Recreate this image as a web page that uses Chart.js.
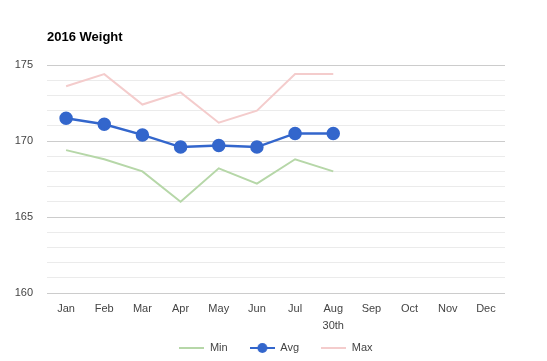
<!DOCTYPE html>
<html>
<head>
<meta charset="utf-8">
<script src="https://cdn.jsdelivr.net/npm/chart.js@4/dist/chart.umd.min.js"></script>
<style>
    html, body { margin: 0; padding: 0; background: #fff; }
    #wrap { width: 547px; height: 361px; }
</style>
</head>
<body>
<div id="wrap"><canvas id="chart" width="547" height="361"></canvas></div>
<script>
'use strict'

const months = ['Jan', 'Feb', 'Mar', 'Apr', 'May', 'Jun', 'Jul', ['Aug', '30th'], 'Sep', 'Oct', 'Nov', 'Dec']
const minWeight = [169.4, 168.8, 168.0, 166.0, 168.2, 167.2, 168.8, 168.0, null, null, null, null]
const avgWeight = [171.5, 171.1, 170.4, 169.6, 169.7, 169.6, 170.5, 170.5, null, null, null, null]
const maxWeight = [173.6, 174.4, 172.4, 173.2, 171.2, 172.0, 174.4, 174.4, null, null, null, null]
const yMin = 160
const yMax = 175

const FONT = '"Liberation Sans", Arial, sans-serif'

// small canvases used as legend markers (line, or line with dot)
const marker = (color, dot) => {
    const c = document.createElement('canvas')
    c.width = 25
    c.height = 12
    const g = c.getContext('2d')
    g.strokeStyle = color
    g.lineWidth = 2
    g.beginPath()
    g.moveTo(0, 6)
    g.lineTo(25, 6)
    g.stroke()
    if (dot) {
        g.fillStyle = color
        g.beginPath()
        g.arc(12.5, 6, 5, 0, Math.PI * 2)
        g.fill()
    }
    return c
}

const markers = [marker('#b6d7a8', false), marker('#3366cc', true), marker('#f4cccc', false)]

const titlePlugin = {
    id: 'leftTitle',
    afterDraw: (chart) => {
        const ctx = chart.ctx
        ctx.save()
        ctx.font = 'bold 13px ' + FONT
        ctx.fillStyle = '#000'
        ctx.textAlign = 'left'
        ctx.textBaseline = 'middle'
        ctx.fillText('2016 Weight', chart.chartArea.left, 37)
        ctx.restore()
    }
}

new Chart(document.getElementById('chart'), {
    type: 'line',
    data: {
        labels: months,
        datasets: [
            {
                label: 'Min',
                data: minWeight,
                borderColor: '#b6d7a8',
                backgroundColor: '#b6d7a8',
                borderWidth: 2,
                pointRadius: 0,
                tension: 0
            },
            {
                label: 'Avg',
                data: avgWeight,
                borderColor: '#3366cc',
                backgroundColor: '#3366cc',
                borderWidth: 2.5,
                pointRadius: 5.5,
                pointHoverRadius: 5.5,
                tension: 0
            },
            {
                label: 'Max',
                data: maxWeight,
                borderColor: '#f4cccc',
                backgroundColor: '#f4cccc',
                borderWidth: 2,
                pointRadius: 0,
                tension: 0
            }
        ]
    },
    options: {
        responsive: false,
        animation: false,
        layout: { padding: { left: 0, right: 42, top: 65, bottom: -2.5 } },
        scales: {
            x: {
                offset: true,
                grid: { display: false, drawTicks: false },
                border: { display: false },
                ticks: {
                    padding: 7.5,
                    color: '#444',
                    maxRotation: 0,
                    autoSkip: false,
                    font: { family: FONT, size: 11, lineHeight: 1.55 }
                },
                afterFit: (scale) => { scale.height = 39.5 }
            },
            y: {
                min: yMin,
                max: yMax,
                grid: {
                    drawTicks: false,
                    color: (ctx) => (ctx.tick && ctx.tick.value % 5 === 0 ? '#cccccc' : '#ebebeb'),
                    lineWidth: 1
                },
                border: { display: false },
                ticks: {
                    stepSize: 1,
                    autoSkip: false,
                    padding: 14,
                    color: '#444',
                    font: { family: FONT, size: 11 },
                    callback: (v) => (v % 5 === 0 ? String(v) : '')
                },
                afterFit: (scale) => { scale.width = 47 }
            }
        },
        plugins: {
            title: { display: false },
            tooltip: { enabled: false },
            legend: {
                position: 'bottom',
                fullSize: false,
                labels: {
                    usePointStyle: true,
                    pointStyleWidth: 25,
                    padding: 10,
                    color: '#444',
                    font: { family: FONT, size: 11 },
                    generateLabels: (chart) => {
                        const items = Chart.defaults.plugins.legend.labels.generateLabels(chart)
                        items.forEach((item, i) => {
                            item.pointStyle = markers[i]
                            // trailing spaces widen the gap to the next item
                            if (i < items.length - 1) item.text += '    '
                        })
                        return items
                    }
                }
            }
        }
    },
    plugins: [titlePlugin]
})
</script>
</body>
</html>
